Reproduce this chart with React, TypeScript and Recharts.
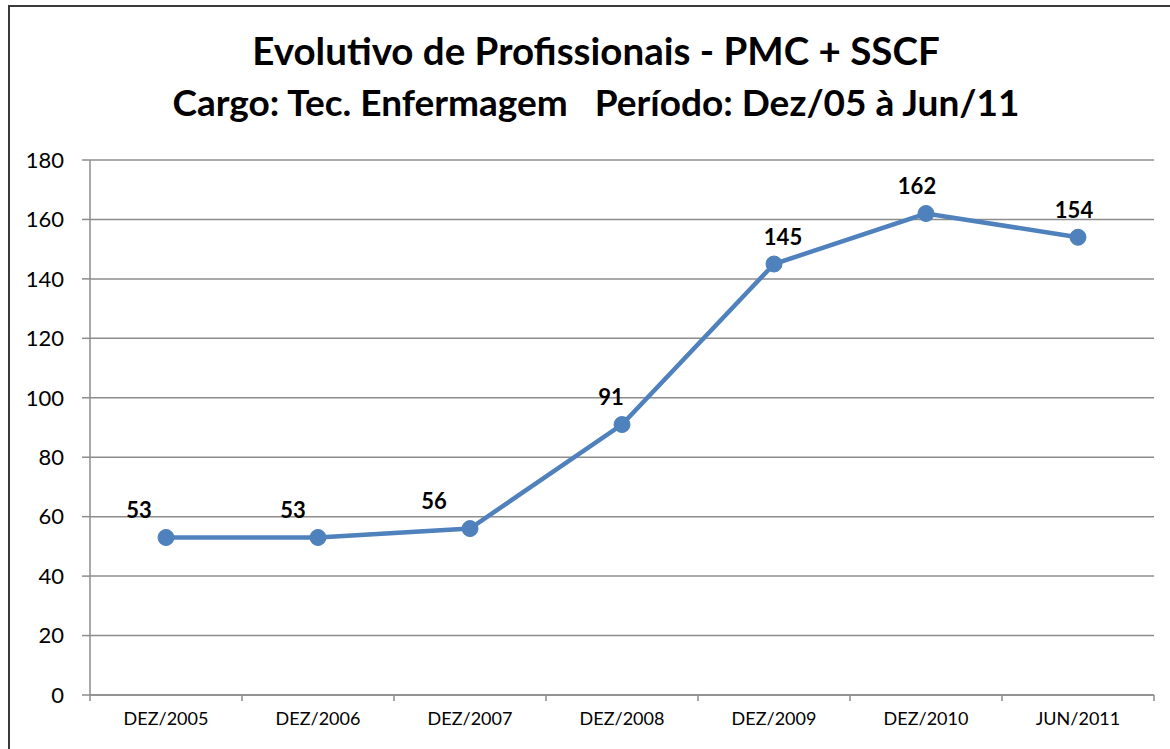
import { LineChart, Line, XAxis, YAxis, CartesianGrid, LabelList } from 'recharts';

const periods = ['DEZ/2005', 'DEZ/2006', 'DEZ/2007', 'DEZ/2008', 'DEZ/2009', 'DEZ/2010', 'JUN/2011'];
const professionals = [53, 53, 56, 91, 145, 162, 154];
const yTicks = [0, 20, 40, 60, 80, 100, 120, 140, 160, 180];
const boundaryTicks = [0, 1, 2, 3, 4, 5, 6, 7];

// label nudges as placed in the original sheet
const labelShift = [-27, -25, -36, -11, 9, -9, -4];

const chartData = periods.map((period, i) => ({
  period,
  pos: i + 0.5,
  value: professionals[i],
}));

const FONT = 'Lato, "Open Sans", sans-serif';
const BLUE = '#4f81bd';
const GRID = '#8c8c8c';

function ValueLabel(props: any) {
  const { x, y, value, index } = props;
  return (
    <text
      x={x + labelShift[index]}
      y={y - 28}
      textAnchor="middle"
      dominantBaseline="central"
      fontFamily={FONT}
      fontWeight={700}
      fontSize={22}
      fill="#000"
    >
      {value}
    </text>
  );
}

export default function App() {
  return (
    <div
      style={{
        position: 'absolute',
        left: 0,
        top: 0,
        width: 1170,
        height: 749,
        background: '#fff',
        overflow: 'hidden',
        fontFamily: FONT,
      }}
    >
      <div
        style={{
          position: 'absolute',
          left: 8,
          top: 5,
          width: 1200,
          height: 800,
          borderLeft: '2px solid #3a3a3a',
          borderTop: '2px solid #3a3a3a',
        }}
      />
      <div
        style={{
          position: 'absolute',
          left: 0,
          width: 1192,
          top: 24,
          textAlign: 'center',
          fontWeight: 700,
          whiteSpace: 'pre',
          color: '#000',
        }}
      >
        <div style={{ fontSize: 38.5, lineHeight: '52px' }}>Evolutivo de Profissionais - PMC + SSCF</div>
        <div style={{ fontSize: 37, lineHeight: '52px' }}>
          {'Cargo: Tec. Enfermagem   Período: Dez/05 à Jun/11'}
        </div>
      </div>
      <div style={{ position: 'absolute', left: 0, top: 0 }}>
        <LineChart
          width={1170}
          height={749}
          data={chartData}
          margin={{ top: 160, right: 16, left: 8, bottom: 0 }}
        >
          <CartesianGrid vertical={false} stroke={GRID} strokeWidth={1.5} />
          <XAxis
            dataKey="pos"
            type="number"
            domain={[0, 7]}
            ticks={boundaryTicks}
            tick={() => <g />}
            height={6}
            axisLine={{ stroke: GRID, strokeWidth: 1.5 }}
            tickLine={{ stroke: GRID, strokeWidth: 1.5 }}
            tickSize={6}
          />
          <XAxis
            xAxisId="cat"
            dataKey="period"
            type="category"
            scale="band"
            height={48}
            axisLine={false}
            tickLine={false}
            tickSize={0}
            tickMargin={11}
            tick={{ fontSize: 18, fill: '#000', fontFamily: FONT }}
            interval={0}
          />
          <YAxis
            domain={[0, 180]}
            ticks={yTicks}
            width={82}
            axisLine={{ stroke: GRID, strokeWidth: 1.5 }}
            tickLine={{ stroke: GRID, strokeWidth: 1.5 }}
            tickSize={8}
            tickMargin={18}
            tick={{ fontSize: 22, fill: '#000', fontFamily: FONT }}
          />
          <Line
            xAxisId="cat"
            dataKey="value"
            stroke="none"
            dot={false}
            activeDot={false}
            isAnimationActive={false}
          />
          <Line
            dataKey="value"
            stroke={BLUE}
            strokeWidth={4.5}
            dot={{ r: 8, fill: BLUE, stroke: BLUE, strokeWidth: 1 }}
            activeDot={false}
            isAnimationActive={false}
          >
            <LabelList dataKey="value" content={<ValueLabel />} />
          </Line>
        </LineChart>
      </div>
    </div>
  );
}
